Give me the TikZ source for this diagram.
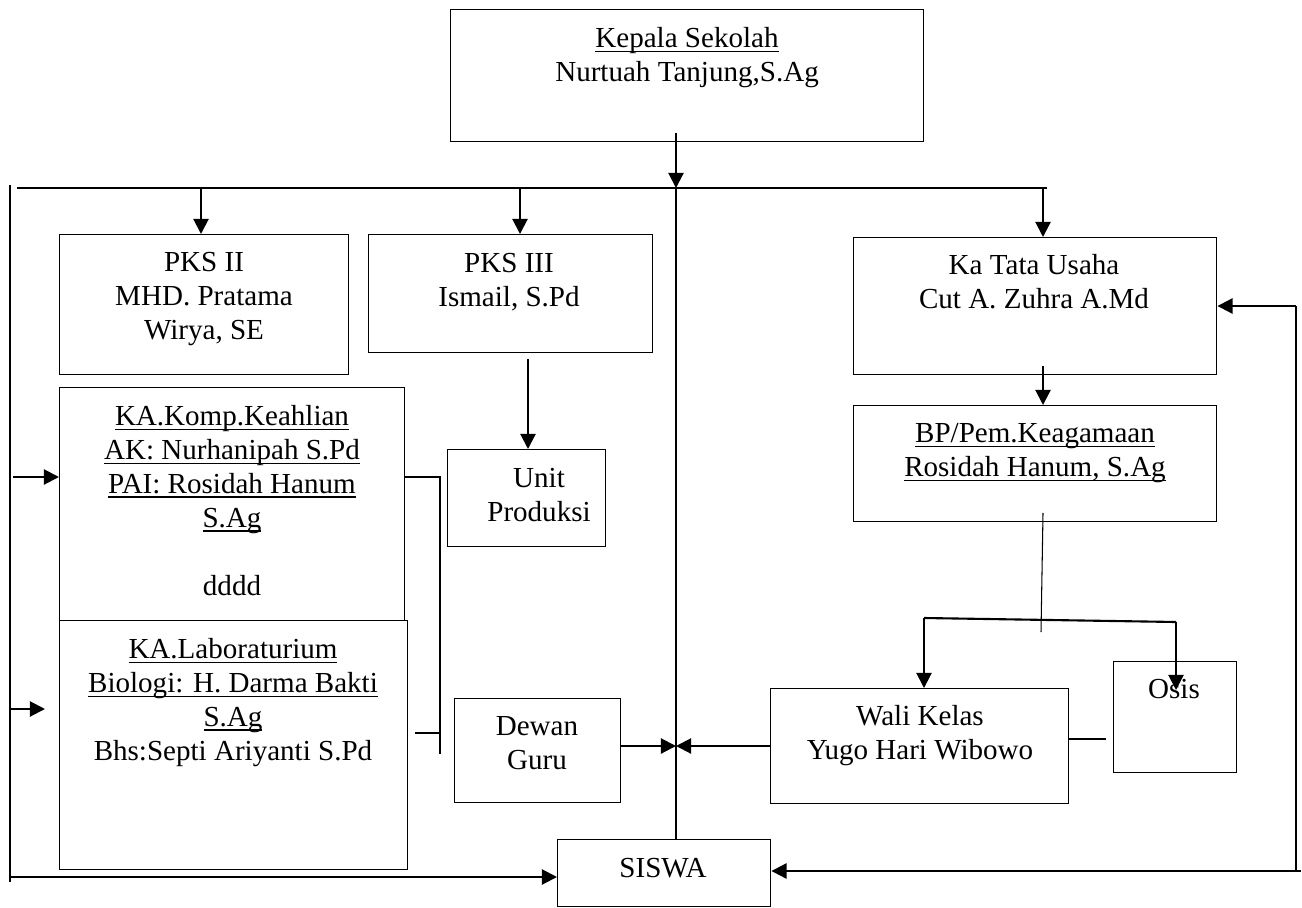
\documentclass[tikz,border=0pt]{standalone}
\usepackage{fontspec}
\setmainfont{Liberation Serif}
\usetikzlibrary{arrows.meta}
\newsavebox\ulbox
\newcommand\ulx[1]{\sbox\ulbox{#1}\rlap{\rule[-1.9pt]{\wd\ulbox}{0.5pt}}\usebox\ulbox}
\begin{document}
\begin{tikzpicture}[x=0.015cm,y=-0.015cm,
  box/.style={draw, line width=0.6pt, inner sep=0pt, anchor=north west},
  txt/.style={anchor=north, inner sep=0pt, align=center, font=\fontsize{12.4}{14.5}\selectfont},
  arr/.style={line width=0.9pt, -{Triangle[length=6.5pt,width=6.5pt]}},
  thin/.style={line width=0.45pt},
  mid/.style={line width=0.6pt},
  thick2/.style={line width=0.9pt}]
\useasboundingbox (0,0) rectangle (1302,908);

% boxes
\node[box, minimum width=7.095cm, minimum height=1.98cm] (ks) at (450,9) {};
\node[box, minimum width=4.335cm, minimum height=2.1cm] (pks2) at (59,234) {};
\node[box, minimum width=4.26cm, minimum height=1.77cm] (pks3) at (368,234) {};
\node[box, minimum width=5.445cm, minimum height=2.055cm] (kat) at (853,237) {};
\node[box, minimum width=5.445cm, minimum height=1.74cm] (bp) at (853,405) {};
\node[box, minimum width=5.175cm, minimum height=3.495cm] (komp) at (59,387) {};
\node[box, minimum width=5.22cm, minimum height=3.735cm] (lab) at (59,620) {};
\node[box, minimum width=2.37cm, minimum height=1.455cm] (up) at (447,449) {};
\node[box, minimum width=2.49cm, minimum height=1.56cm] (dg) at (454,698) {};
\node[box, minimum width=4.47cm, minimum height=1.725cm] (wk) at (770,688) {};
\node[box, minimum width=1.845cm, minimum height=1.665cm] (osis) at (1113,661) {};
\node[box, minimum width=3.195cm, minimum height=1.005cm] (siswa) at (557,839) {};

% texts
\node[txt] (ks-t) at (687,23) {\strut\ulx{Kepala Sekolah}\\Nurtuah Tanjung,S.Ag};
\node[txt] (pks2-t) at (204,247) {\strut PKS II\\MHD. Pratama\\Wirya, SE};
\node[txt] (pks3-t) at (509,248) {\strut PKS III\\Ismail, S.Pd};
\node[txt] (kat-t) at (1034,250) {\strut Ka Tata Usaha\\Cut A. Zuhra A.Md};
\node[txt] (bp-t) at (1035,418) {\strut\ulx{BP/Pem.Keagamaan}\\\ulx{Rosidah Hanum, S.Ag}};
\node[txt] (komp-t) at (232,401) {\strut\ulx{KA.Komp.Keahlian}\\\ulx{AK: Nurhanipah S.Pd}\\\ulx{PAI: Rosidah Hanum}\\\ulx{S.Ag}\\\mbox{}\\dddd};
\node[txt] (lab-t) at (233,634) {\strut\ulx{KA.Laboraturium}\\\ulx{Biologi: H. Darma Bakti}\\\ulx{S.Ag}\\Bhs:Septi Ariyanti S.Pd};
\node[txt] (up-t) at (539,463) {\strut Unit\\Produksi};
\node[txt] (dg-t) at (537,711) {\strut Dewan\\Guru};
\node[txt] (wk-t) at (920,701) {\strut Wali Kelas\\Yugo Hari Wibowo};
\node[txt] (osis-t) at (1174,674) {\strut Osis};
\node[txt] (siswa-t) at (663,853) {\strut SISWA};

% coordinates
\coordinate (jT) at (676,188);
\coordinate (hL) at (17,188);
\coordinate (hR) at (1047,188);
\coordinate (vT) at (10,185);
\coordinate (vB) at (10,882);
\coordinate (a2) at (201,188);
\coordinate (a3) at (520,188);
\coordinate (a4) at (1043,188);
\coordinate (u1) at (528,359);
\coordinate (rT) at (1296,306);
\coordinate (rB) at (1296,871);
\coordinate (rE) at (1301,871);
\coordinate (l1) at (13,477);
\coordinate (l2) at (10,709);
\coordinate (l2e) at (45,709);
\coordinate (l3) at (10,877);
\coordinate (k1) at (440,477);
\coordinate (k2) at (440,754);
\coordinate (s1) at (415,733);
\coordinate (jM) at (676,746);
\coordinate (b1) at (1043,513);
\coordinate (b2) at (1041,632);
\coordinate (br1) at (924,618);
\coordinate (br2) at (1176,622);
\coordinate (o1) at (1176,690);
\coordinate (w1) at (1106,739);

% connectors
\draw[arr] (ks.south -| jT) ++(0,-9) -- (jT);
\draw[thin] (hL) -- (hR);
\draw[thin] (vT) -- (vB);
\draw[arr] (a2) -- (a2 |- pks2.north);
\draw[arr] (a3) -- (a3 |- pks3.north);
\draw[arr] (a4) -- (a4 |- kat.north);
\draw[mid] (jT) -- (jT |- siswa.north);
\draw[arr] (u1) -- (u1 |- up.north);
\draw[arr] (kat.south -| a4) ++(0,-9) -- (a4 |- bp.north);
\draw[mid] (rB) -- (rT);
\draw[arr] (rT) -- (rT -| kat.east);
\draw[arr] (rE) -- (rE -| siswa.east);
\draw[arr] (l1) -- (l1 -| komp.west);
\draw[arr] (l2) -- (l2e);
\draw[arr] (l3) -- (l3 -| siswa.west);
\draw[mid] (k1 -| komp.east) -- (k1) -- (k2);
\draw[mid] (s1) -- (s1 -| k1);
\draw[arr] (jM -| dg.east) -- (jM);
\draw[arr] (jM -| wk.west) -- (jM);
\draw[thin] (b1) -- (b2);
\draw[thick2] (br1) -- (br2);
\draw[arr] (br1) -- (br1 |- wk.north);
\draw[arr] (br2) -- (o1);
\draw[thin] (w1 -| wk.east) -- (w1);
\end{tikzpicture}
\end{document}
